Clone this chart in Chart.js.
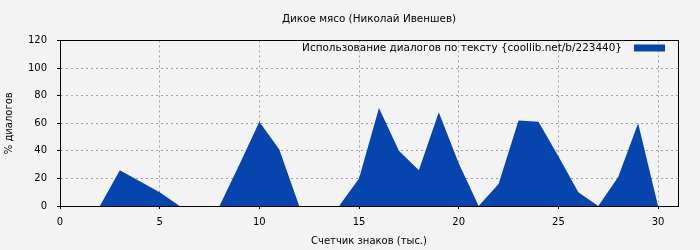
<!DOCTYPE html>
<html>
<head>
<meta charset="utf-8">
<script src="https://cdn.jsdelivr.net/npm/chart.js@4/dist/chart.umd.min.js"></script>
<style>
  html, body { margin: 0; padding: 0; background: #f3f3f3; }
  #wrap { width: 700px; height: 250px; }
</style>
</head>
<body>
<div id="wrap"><canvas id="myChart" width="700" height="250"></canvas></div>
<script>
// values
var xs = [0, 1, 2, 3, 4, 5, 6, 7, 8, 9, 10, 11, 12, 13, 14, 15, 16, 17, 18, 19, 20, 21, 22, 23, 24, 25, 26, 27, 28, 29, 30];
var ys = [0, 0, 0, 26, 18, 10, 0, 0, 0, 30, 61, 41, 0, 0, 0, 20, 71, 40, 26, 68, 31, 0, 16, 62, 61, 36, 10, 0, 21, 60, 0];
var titleText = "Дикое мясо (Николай Ивеншев)";
var seriesName = "Использование диалогов по тексту {coollib.net/b/223440}";
var xTitle = "Счетчик знаков (тыс.)";
var yTitle = "% диалогов";

var font = "'DejaVu Sans', sans-serif";

function startChart()
{
    var points = [];
    for (var i = 0; i < xs.length; i++) {
        points.push({x: xs[i], y: ys[i]});
    }

    // frame round the plot (top and right sides too)
    var frame = {
        id: 'frame',
        afterDraw: function(chart) {
            var a = chart.chartArea;
            var c = chart.ctx;
            c.save();
            c.strokeStyle = '#000';
            c.lineWidth = 1;
            c.strokeRect(Math.round(a.left) + 0.5, Math.round(a.top) + 0.5,
                Math.round(a.right - a.left), Math.round(a.bottom - a.top));
            c.restore();
        }
    };

    // legend like gnuplot: text, then the colour box on its right
    var keyBox = {
        id: 'keyBox',
        afterDraw: function(chart) {
            var a = chart.chartArea;
            var c = chart.ctx;
            var ds = chart.data.datasets[0];
            var bx = a.right - 13 - 31;
            var by = a.top + 4;
            c.save();
            c.fillStyle = ds.backgroundColor;
            c.fillRect(bx, by, 31, 7);
            c.fillStyle = '#000';
            c.font = '10.45px ' + font;
            c.textAlign = 'right';
            c.textBaseline = 'middle';
            c.fillText(ds.label, bx - 12, by + 3.5);
            c.restore();
        }
    };

    var ctx = document.getElementById('myChart').getContext('2d');
    var myChart = new Chart(ctx, {
        type: 'line',
        data: {
            datasets: [{
                label: seriesName,
                data: points,
                backgroundColor: '#0645ad',
                borderColor: '#0645ad',
                borderWidth: 0,
                pointRadius: 0,
                fill: 'origin',
                tension: 0
            }]
        },
        options: {
            responsive: false,
            animation: false,
            layout: { padding: { left: 0, right: 22, top: 0, bottom: 0 } },
            plugins: {
                title: {
                    display: true,
                    fullSize: false,
                    text: titleText,
                    color: '#000',
                    font: { family: font, size: 10.4, weight: 'normal' },
                    padding: { top: 13, bottom: 15 }
                },
                legend: { display: false },
                tooltip: { enabled: false }
            },
            scales: {
                x: {
                    type: 'linear',
                    min: 0,
                    max: 31,
                    afterFit: function(s) { s.height = 44; },
                    afterBuildTicks: function(s) {
                        s.ticks = s.ticks.filter(function(t) { return t.value <= 30; });
                    },
                    ticks: { stepSize: 5, color: '#000', padding: 7, maxRotation: 0,
                        font: { family: font, size: 10 } },
                    grid: {
                        color: function(c) { return (c.tick && c.tick.value > 0) ? '#a0a0a0' : 'rgba(0,0,0,0)'; },
                        tickColor: '#000',
                        tickLength: 3,
                        lineWidth: 1
                    },
                    border: { display: true, color: '#000', width: 1, dash: [2, 3] },
                    title: { display: true, text: xTitle, color: '#000',
                        font: { family: font, size: 10 }, padding: { top: 6, bottom: 3 } }
                },
                y: {
                    min: 0,
                    max: 120,
                    afterFit: function(s) { s.width = 60; },
                    ticks: { stepSize: 20, color: '#000', padding: 10,
                        font: { family: font, size: 10 } },
                    grid: {
                        color: function(c) { return (c.tick && c.tick.value > 0 && c.tick.value < 120) ? '#a0a0a0' : 'rgba(0,0,0,0)'; },
                        tickColor: '#000',
                        tickLength: 3,
                        lineWidth: 1
                    },
                    border: { display: true, color: '#000', width: 1, dash: [2, 3] },
                    title: { display: true, text: yTitle, color: '#000',
                        font: { family: font, size: 10 }, padding: { top: 3, bottom: 6 } }
                }
            }
        },
        plugins: [frame, keyBox]
    });
}

startChart();
</script>
</body>
</html>
